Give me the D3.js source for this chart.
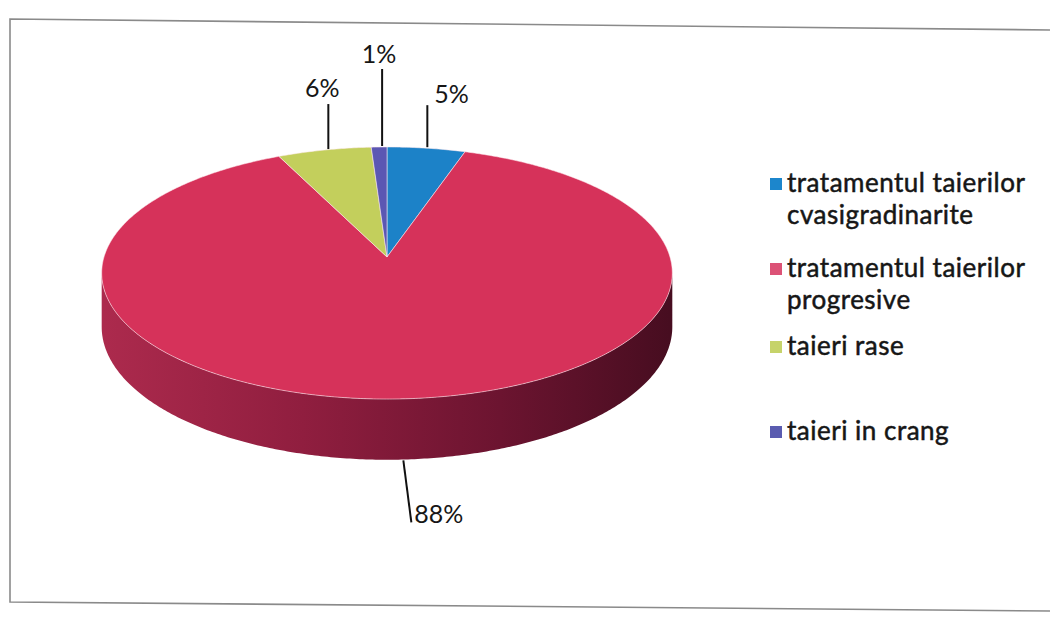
<!DOCTYPE html>
<html>
<head>
<meta charset="utf-8">
<script src="https://cdn.jsdelivr.net/npm/d3@7/dist/d3.min.js"></script>
<style>
  html, body { margin: 0; padding: 0; background: #ffffff; }
  svg { display: block; }
  text { font-family: Lato, "Open Sans", "DejaVu Sans", sans-serif; fill: #161616; }
</style>
</head>
<body>
<svg id="chart" width="1050" height="617"></svg>
<script>
// Share of each treatment (percent of the total)
const categories = [
  "tratamentul taierilor cvasigradinarite",
  "tratamentul taierilor progresive",
  "taieri rase",
  "taieri in crang"
];
const shares = [5, 88, 6, 1];
const percentLabels = ["5%", "88%", "6%", "1%"];
const legendLines = [
  ["tratamentul taierilor", "cvasigradinarite"],
  ["tratamentul taierilor", "progresive"],
  ["taieri rase"],
  ["taieri in crang"]
];
const sliceColors = ["#1c82c8", "#d6325a", "#c3cf5c", "#5b57b3"];
const legendColors = ["#1c86cc", "#dc5276", "#c6d36a", "#5a5cb0"];

const svg = d3.select("#chart");

// Chart frame (slightly skewed as on the page)
svg.append("path")
  .attr("d", "M1052,30 L10,19 L10,602 L1052,611")
  .attr("fill", "none")
  .attr("stroke", "#8a8a8a")
  .attr("stroke-width", 1.6);

// --- 3D pie projection -------------------------------------------------
const CX = 387, CY = 257;   // projected centre of the top face
const R = 283, S = 124;     // horizontal / depth radius
const A = 0.127;            // perspective strength
const DEPTH = 53;           // pie thickness

function proj(phi, depth) {
  const u = Math.sin(phi), v = -Math.cos(phi);
  const w = 1 - A * v;
  return [CX + R * u / w, CY + S * v / w + (depth || 0) / w];
}

const pie = d3.pie().sort(null).value(d => d)
  .startAngle(0).endAngle(2 * Math.PI);
const arcs = pie(shares);

function rimPoints(a0, a1, depth) {
  const n = Math.max(2, Math.ceil(Math.abs(a1 - a0) / 0.01));
  return d3.range(n + 1).map(i => proj(a0 + (a1 - a0) * i / n, depth));
}

// Side wall: visible between the two silhouette angles, through the front
const phiRight = Math.acos(-A);
const phiLeft = 2 * Math.PI - phiRight;

const defs = svg.append("defs");
const grad = defs.append("linearGradient")
  .attr("id", "sideShade")
  .attr("gradientUnits", "userSpaceOnUse")
  .attr("x1", CX - R).attr("x2", CX + R)
  .attr("y1", 0).attr("y2", 0);
[["0%", "#ac2a4d"], ["35%", "#901e3f"], ["70%", "#6c1430"], ["100%", "#470d20"]]
  .forEach(([o, c]) => grad.append("stop").attr("offset", o).attr("stop-color", c));

const line = d3.line();
arcs.forEach((a, i) => {
  const s0 = Math.max(a.startAngle, phiRight);
  const s1 = Math.min(a.endAngle, phiLeft);
  if (s1 <= s0) return;
  const top = rimPoints(s0, s1, 0);
  const bottom = rimPoints(s1, s0, DEPTH);
  svg.append("path")
    .attr("d", line(top.concat(bottom)) + "Z")
    .attr("fill", i === 1 ? "url(#sideShade)" : d3.color(sliceColors[i]).darker(1));
});

// Top faces
arcs.forEach((a, i) => {
  const pts = [[CX, CY]].concat(rimPoints(a.startAngle, a.endAngle, 0));
  svg.append("path")
    .attr("d", line(pts) + "Z")
    .attr("fill", sliceColors[i])
    .attr("stroke", "rgba(255,235,240,0.55)")
    .attr("stroke-width", 1)
    .attr("stroke-linejoin", "round");
});

// --- Data labels with leader lines --------------------------------------
// leader length and label placement for each slice (top-edge or bottom-edge anchor)
const labelSetup = [
  { lead: 42, dx: 7, dy: -2, anchor: "start" },   // 5%
  { lead: 62, dx: 3, dy: 1, anchor: "start", below: true, tilt: 4 }, // 88%
  { lead: 45, dx: -6, dy: -7, anchor: "middle" }, // 6%
  { lead: 77, dx: -3, dy: -6, anchor: "middle" }  // 1%
];

const labelSize = 25;
arcs.forEach((a, i) => {
  const mid = (a.startAngle + a.endAngle) / 2;
  const cfg = labelSetup[i];
  let p0, p1;
  if (cfg.below) {
    p0 = proj(mid, DEPTH);
    p0 = [p0[0] - 4, p0[1] + 1];
    p1 = [p0[0] + (cfg.tilt || 0) + 4, p0[1] + cfg.lead];
  } else {
    p0 = proj(mid, 0);
    p0 = [p0[0] + (i === 2 ? 4 : i === 3 ? 3 : 1), p0[1] - 1];
    p1 = [p0[0], p0[1] - cfg.lead];
  }
  svg.append("line")
    .attr("x1", p0[0]).attr("y1", p0[1])
    .attr("x2", p1[0]).attr("y2", p1[1])
    .attr("stroke", "#111")
    .attr("stroke-width", 2);
  svg.append("text")
    .attr("x", p1[0] + cfg.dx)
    .attr("y", p1[1] + cfg.dy)
    .attr("text-anchor", cfg.anchor)
    .attr("font-size", labelSize)
    .text(percentLabels[i]);
});

// --- Legend ---------------------------------------------------------------
const legendX = 770, textX = 787;
const legendBaselines = [192, 277, 355, 440];
const lineGap = 32;
const legendSize = 26;

const legend = svg.append("g");
categories.forEach((c, i) => {
  const b = legendBaselines[i];
  legend.append("rect")
    .attr("x", legendX).attr("y", b - 14)
    .attr("width", 12).attr("height", 12)
    .attr("fill", legendColors[i]);
  const t = legend.append("text")
    .attr("x", textX).attr("y", b)
    .attr("font-size", legendSize)
    .attr("letter-spacing", 0.5)
    .attr("stroke", "#161616").attr("stroke-width", 0.5);
  legendLines[i].forEach((ln, j) => {
    t.append("tspan").attr("x", textX).attr("y", b + j * lineGap).text(ln);
  });
});
</script>
</body>
</html>
